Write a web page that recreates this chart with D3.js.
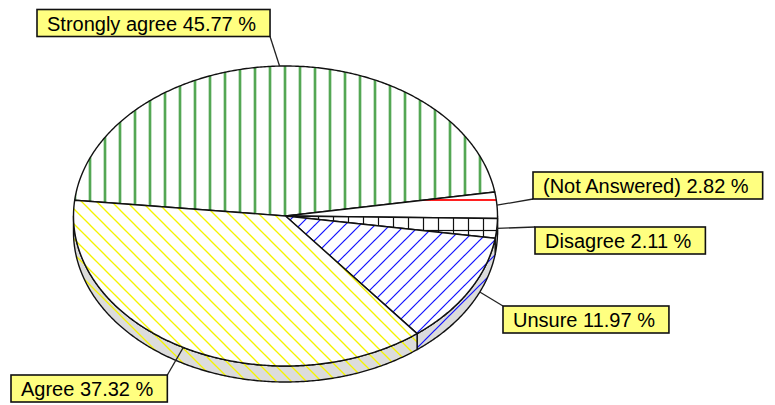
<!DOCTYPE html>
<html><head><meta charset="utf-8">
<script src="https://cdn.jsdelivr.net/npm/d3@7"></script>
<style>html,body{margin:0;padding:0;background:#fff;} svg{display:block}</style>
</head><body>
<svg id="chart" width="775" height="405"></svg>
<script>
// ---- data ----
const categories = ["Strongly agree", "(Not Answered)", "Disagree", "Unsure", "Agree"];
const values = [45.77, 2.82, 2.11, 11.97, 37.32];
const percentLabels = ["45.77 %", "2.82 %", "2.11 %", "11.97 %", "37.32 %"];

// ---- layout ----
const cx = 285.5, cy = 216, rx = 212, ry = 150, depth = 16;
const startAngle = -84 * Math.PI / 180;
const labelLayout = [
  {x: 37,  y: 9.5, rim: "top",    shift: 0,    corner: "br"},
  {x: 533, y: 172, rim: "top",    shift: 0,    corner: "bl"},
  {x: 535, y: 227, rim: "top",    shift: 0,    corner: "tl"},
  {x: 503, y: 306, rim: "bottom", shift: -6.5, corner: "tl"},
  {x: 11,  y: 375, rim: "top",    shift: 0,    corner: "tr"}
];

const svg = d3.select("#chart");
const defs = svg.append("defs");

function makePattern(id, w, h, bg, px, py, draw) {
  const p = defs.append("pattern").attr("id", id)
    .attr("patternUnits", "userSpaceOnUse")
    .attr("width", w).attr("height", h).attr("x", px).attr("y", py);
  p.append("rect").attr("width", w).attr("height", h).attr("fill", bg);
  draw(p);
}
const drawers = [
  p => p.append("line").attr("x1", 7.5).attr("x2", 7.5).attr("y1", 0).attr("y2", 15)
        .attr("stroke", "#1a8a1a").attr("stroke-width", 2),
  p => p.append("line").attr("x1", 0).attr("x2", 15).attr("y1", 20).attr("y2", 20)
        .attr("stroke", "#ff2020").attr("stroke-width", 2),
  p => { p.append("line").attr("x1", 3.5).attr("x2", 3.5).attr("y1", 0).attr("y2", 15).attr("stroke", "#111").attr("stroke-width", 1.2);
         p.append("line").attr("x1", 0).attr("x2", 15).attr("y1", 5.5).attr("y2", 5.5).attr("stroke", "#111").attr("stroke-width", 1.2); },
  p => { const g = p.append("g").attr("stroke", "#1010ff").attr("stroke-width", 1.2);
         g.append("line").attr("x1", 0).attr("y1", 15).attr("x2", 15).attr("y2", 0);
         g.append("line").attr("x1", -2).attr("y1", 2).attr("x2", 2).attr("y2", -2);
         g.append("line").attr("x1", 13).attr("y1", 17).attr("x2", 17).attr("y2", 13); },
  p => { const g = p.append("g").attr("stroke", "#f4f400").attr("stroke-width", 1.3);
         g.append("line").attr("x1", 0).attr("y1", 0).attr("x2", 15).attr("y2", 15);
         g.append("line").attr("x1", -2).attr("y1", 13).attr("x2", 2).attr("y2", 17);
         g.append("line").attr("x1", 13).attr("y1", -2).attr("x2", 17).attr("y2", 2); }
];
const patSizes = [[15, 15, -7.5, 0], [15, 30, 0, 0], [15, 15, 0, 0], [15, 15, 0, 0], [15, 15, 0, 0]];
categories.forEach((c, i) => {
  const [w, h, px, py] = patSizes[i];
  makePattern("top" + i, w, h, "#ffffff", px, py, drawers[i]);
  makePattern("side" + i, w, h, "#dcdcdc", px, py, drawers[i]);
});

const pie = d3.pie().sort(null).value(d => d)
  .startAngle(startAngle).endAngle(startAngle + 2 * Math.PI);
const arcs = pie(values);

const pt = (a, dy = 0) => [cx + rx * Math.sin(a), cy - ry * Math.cos(a) + dy];
function sampleAngles(a0, a1) {
  const n = Math.max(2, Math.ceil(Math.abs(a1 - a0) / (Math.PI / 360)));
  return d3.range(n + 1).map(k => a0 + (a1 - a0) * k / n);
}
const line = d3.line();

// sides (front half only)
const gSide = svg.append("g");
arcs.forEach((d, i) => {
  const lo = Math.PI / 2, hi = 3 * Math.PI / 2;
  const b0 = Math.max(d.startAngle, lo), b1 = Math.min(d.endAngle, hi);
  if (b1 <= b0) return;
  const top = sampleAngles(b0, b1).map(a => pt(a));
  const bot = sampleAngles(b1, b0).map(a => pt(a, depth));
  gSide.append("path").attr("d", line(top.concat(bot)) + "Z")
    .attr("fill", `url(#side${i})`).attr("stroke", "#111").attr("stroke-width", 1.4)
    .attr("stroke-linejoin", "round");
});

// top faces
const gTop = svg.append("g");
arcs.forEach((d, i) => {
  const pts = [[cx, cy]].concat(sampleAngles(d.startAngle, d.endAngle).map(a => pt(a)));
  gTop.append("path").attr("d", line(pts) + "Z")
    .attr("fill", `url(#top${i})`).attr("stroke", "#111").attr("stroke-width", 1.4)
    .attr("stroke-linejoin", "round");
});

// labels
const gLab = svg.append("g").style("font-family", "'Liberation Sans', Arial, sans-serif").style("font-size", "20px");
arcs.forEach((d, i) => {
  const L = labelLayout[i];
  const g = gLab.append("g");
  const rect = g.append("rect");
  const text = g.append("text").attr("x", L.x + 10).attr("y", L.y + 21)
    .attr("fill", "#000").text(categories[i] + " " + percentLabels[i]);
  const w = text.node().getComputedTextLength() + 24, h = 27;
  rect.attr("x", L.x).attr("y", L.y).attr("width", w).attr("height", h)
    .attr("fill", "#ffff80").attr("stroke", "#111").attr("stroke-width", 1.6);
  const mid = (d.startAngle + d.endAngle) / 2 + L.shift * Math.PI / 180;
  const a = pt(mid, L.rim === "bottom" ? depth : 0);
  const corners = {br: [L.x + w, L.y + h], bl: [L.x, L.y + h], tl: [L.x, L.y], tr: [L.x + w, L.y]};
  const e = corners[L.corner];
  gLab.insert("line", ":first-child").attr("x1", a[0]).attr("y1", a[1]).attr("x2", e[0]).attr("y2", e[1])
    .attr("stroke", "#222").attr("stroke-width", 1.3);
});
</script>
</body></html>
